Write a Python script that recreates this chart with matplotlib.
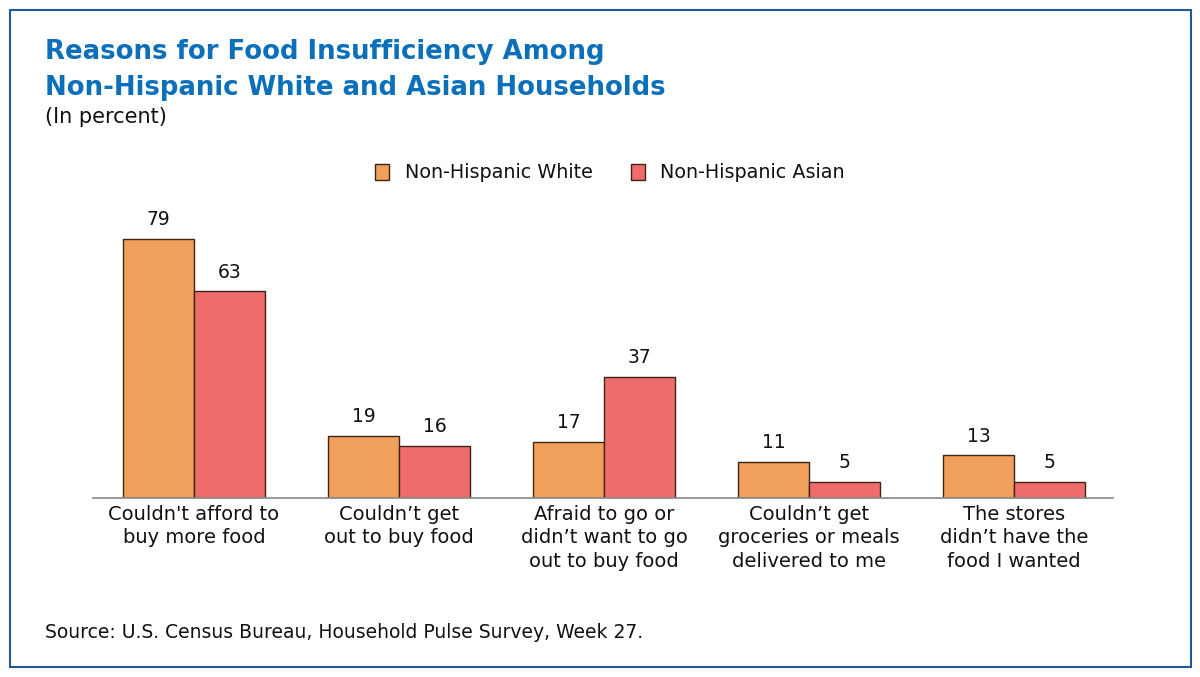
import matplotlib
matplotlib.use("Agg")
import matplotlib.pyplot as plt
import numpy as np
from matplotlib.patches import Rectangle

categories = ["Couldn't afford to\nbuy more food",
              "Couldn\u2019t get\nout to buy food",
              "Afraid to go or\ndidn\u2019t want to go\nout to buy food",
              "Couldn\u2019t get\ngroceries or meals\ndelivered to me",
              "The stores\ndidn\u2019t have the\nfood I wanted"]
white = [79, 19, 17, 11, 13]
asian = [63, 16, 37, 5, 5]
series_names = ["Non-Hispanic White", "Non-Hispanic Asian"]

plt.rcParams['font.family'] = ['DejaVu Sans']
W, H = 1200, 677
fig = plt.figure(figsize=(12, 6.77), dpi=100)

# border
fig.patches.append(Rectangle((10 / W, 1 - 667 / H), 1181 / W, 657 / H,
                             transform=fig.transFigure, fill=False,
                             edgecolor='#1f5a96', linewidth=1.5))

fig.text(45 / W, 1 - 52 / H, "Reasons for Food Insufficiency Among",
         color='#0b6fba', fontsize=18.7, fontweight='bold', va='center', ha='left')
fig.text(45 / W, 1 - 88 / H, "Non-Hispanic White and Asian Households",
         color='#0b6fba', fontsize=18.7, fontweight='bold', va='center', ha='left')
fig.text(45 / W, 1 - 117 / H, "(In percent)", color='#111111', fontsize=15,
         va='center', ha='left')
fig.text(45 / W, 1 - 633 / H,
         "Source: U.S. Census Bureau, Household Pulse Survey, Week 27.",
         color='#111111', fontsize=13.5, va='center', ha='left')

ax_left, ax_right = 93, 1113
ax_top, ax_bot = 200, 498
ax = fig.add_axes([ax_left / W, 1 - ax_bot / H, (ax_right - ax_left) / W,
                   (ax_bot - ax_top) / H])
x = np.arange(len(categories))
bw = 0.347
c_white = '#f0a05a'
c_asian = '#f06b6b'
ax.bar(x - bw / 2, white, bw, color=c_white, edgecolor='#3b2418', linewidth=1,
       label=series_names[0])
ax.bar(x + bw / 2, asian, bw, color=c_asian, edgecolor='#3b2418', linewidth=1,
       label=series_names[1])
for xi, v in zip(x, white):
    ax.text(xi - bw / 2, v + 3, str(v), ha='center', va='bottom', fontsize=13.5,
            color='#111111')
for xi, v in zip(x, asian):
    ax.text(xi + bw / 2, v + 3, str(v), ha='center', va='bottom', fontsize=13.5,
            color='#111111')

ax.set_xlim(-0.493, 4.483)
ax.set_ylim(0, 298 / 3.28)
ax.set_xticks(x)
ax.set_xticklabels(categories, fontsize=14, color='#111111', linespacing=1.3,
                   va='top')
ax.tick_params(axis='x', length=0, pad=5)
ax.set_yticks([])
for s in ['top', 'right', 'left']:
    ax.spines[s].set_visible(False)
ax.spines['bottom'].set_color('#888888')
ax.spines['bottom'].set_linewidth(1.2)

leg = fig.legend(loc='center', bbox_to_anchor=(610 / W, 1 - 173 / H), ncol=2,
                 frameon=False, fontsize=13.8, handlelength=0.75, handleheight=0.85,
                 columnspacing=2.0, handletextpad=0.8)
for t in leg.get_texts():
    t.set_color('#111111')

fig.savefig("out.png", dpi=100)
